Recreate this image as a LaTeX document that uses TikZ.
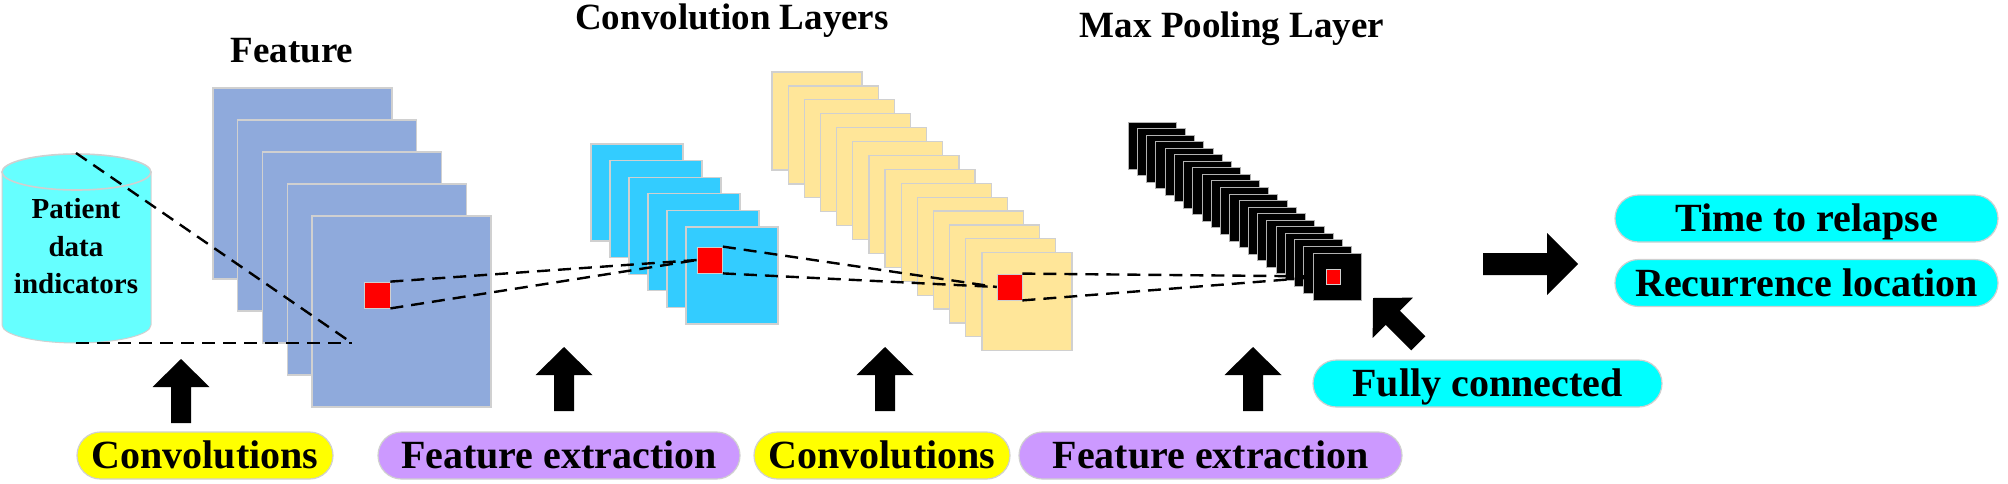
\documentclass[tikz,border=0pt]{standalone}
\usepackage{fontspec}
\setmainfont{Liberation Serif}
\usetikzlibrary{calc}
\definecolor{featblue}{HTML}{8FAADC}
\definecolor{convcyan}{HTML}{33CCFF}
\definecolor{poolyel}{HTML}{FFE699}
\definecolor{cylcyan}{HTML}{66FFFF}
\definecolor{pillcyan}{HTML}{00FFFF}
\definecolor{pillyel}{HTML}{FFFF00}
\definecolor{pillpur}{HTML}{CC99FF}
\definecolor{edgegray}{HTML}{D0D0D0}
\begin{document}
\begin{tikzpicture}[x=0.5pt,y=-0.5pt,
  fmap/.style={draw=edgegray,line width=0.6pt},
  hot/.style={fill=red,draw=edgegray,line width=0.4pt,inner sep=0pt},
  link/.style={draw=black,line width=1.2pt,dash pattern=on 6.5pt off 4pt},
  pill/.style={rounded corners=11.75pt,minimum height=23.5pt,draw=edgegray,line width=0.6pt,
    inner sep=0pt,text height=13pt,text depth=0pt,font=\fontsize{20}{24}\selectfont\bfseries},
  title/.style={inner sep=0pt,anchor=base,font=\fontsize{18.5}{22}\selectfont\bfseries},
  cyltext/.style={inner sep=0pt,anchor=base,font=\fontsize{14.5}{18}\selectfont\bfseries},
  uparr/.pic={\fill[black] (0,0) -- (28.5,28) -- (10,28) -- (10,64) -- (-10,64) -- (-10,28) -- (-28.5,28) -- cycle;}
]
\fill[white] (0,0) rectangle (2008,483);
\useasboundingbox (0,0) rectangle (2008,483);

% titles
\node[title] (tfeat) at (292,62) {Feature};
\node[title] (tconv) at (732,29) {Convolution Layers};
\node[title] (tpool) at (1232,37) {Max Pooling Layer};

% cylinder
\path[fill=cylcyan] (2,172) rectangle (151,325);
\path[fill=cylcyan] (76.5,325) ellipse[x radius=74.5,y radius=18];
\draw[edgegray,line width=0.5pt] (2,172) -- (2,325) arc[start angle=180,end angle=0,x radius=74.5,y radius=18] -- (151,172);
\draw[edgegray,line width=0.8pt,fill=cylcyan] (76.5,172) ellipse[x radius=74.5,y radius=18];
\node[cyltext] (p1) at (76,218) {Patient};
\node[cyltext] (p2) at (76,256) {data};
\node[cyltext] (p3) at (76,293) {indicators};
\coordinate (cyltop) at (76,153);
\coordinate (cylbase) at (76,343);
\coordinate (fpt) at (352,343);

% stacks
\foreach \i in {0,...,4}
  \draw[fmap,fill=featblue] ({213+24.75*\i},{88+32*\i}) rectangle ++(179,191);
\foreach \i in {0,...,5}
  \draw[fmap,fill=convcyan] ({591+19*\i},{144+16.6*\i}) rectangle ++(92,97);
\foreach \i in {0,...,13}
  \draw[fmap,fill=poolyel] ({772+16.15*\i},{72+13.9*\i}) rectangle ++(90,98);
\foreach \i in {0,...,20}
  \draw[draw=gray!60,line width=0.5pt,fill=black] ({1128+9.25*\i},{122+6.55*\i}) rectangle ++(48,47);

% red windows
\node[hot,minimum width=13pt,minimum height=13pt] (r1) at (377,295) {};
\node[hot,minimum width=12.5pt,minimum height=13pt] (r2) at (710,260) {};
\node[hot,minimum width=12.5pt,minimum height=13pt] (r3) at (1009.5,287) {};
\node[hot,minimum width=7pt,minimum height=7.5pt] (r4) at (1333,276.5) {};

% dashed connectors
\draw[link] (cyltop) -- (fpt);
\draw[link] (cylbase) -- (fpt);
\draw[link] (r1.north east) -- (r2.west);
\draw[link] (r1.south east) -- (r2.west);
\draw[link] (r2.north east) -- (r3.west);
\draw[link] (r2.south east) -- (r3.west);
\draw[link] (r3.north east) -- (r4.west);
\draw[link] (r3.south east) -- (r4.west);

% block arrows
\pic at (181,359) {uparr};
\pic at (564,347) {uparr};
\pic at (885,347) {uparr};
\pic at (1253,347) {uparr};
\pic[rotate=45] at (1373,298) {uparr};
\fill[black] (1578,264) -- (1547,233) -- (1547,253) -- (1483,253) -- (1483,275) -- (1547,275) -- (1547,295) -- cycle;

% pills
\node[pill,fill=pillyel,minimum width=128pt] (conv1) at (205,455.5) {Convolutions};
\node[pill,fill=pillpur,minimum width=181pt] (fe1) at (559,455.5) {Feature extraction};
\node[pill,fill=pillyel,minimum width=128pt] (conv2) at (882,455.5) {Convolutions};
\node[pill,fill=pillpur,minimum width=191.5pt] (fe2) at (1210.5,455.5) {Feature extraction};
\node[pill,fill=pillcyan,minimum width=174.5pt] (fc) at (1487.5,383.5) {Fully connected};
\node[pill,fill=pillcyan,minimum width=191.5pt] (ttr) at (1806.5,218.5) {Time to relapse};
\node[pill,fill=pillcyan,minimum width=191.5pt] (rloc) at (1806.5,283) {Recurrence location};
\end{tikzpicture}
\end{document}
